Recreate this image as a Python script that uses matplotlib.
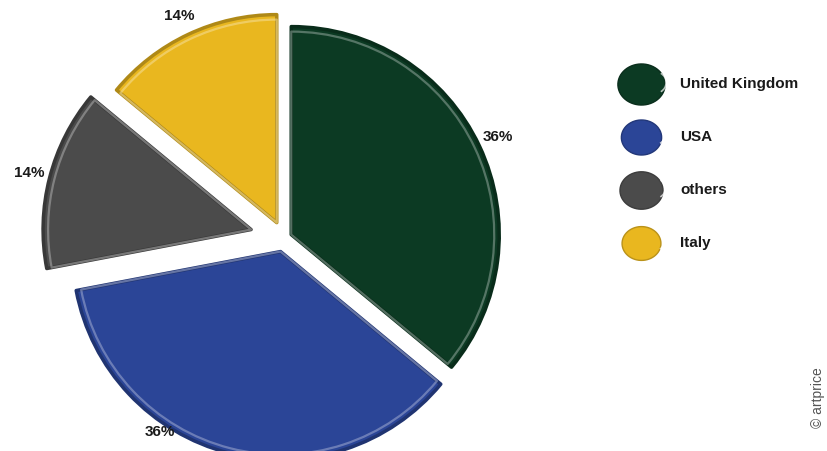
import numpy as np
import matplotlib
matplotlib.use("Agg")
import matplotlib.pyplot as plt
from matplotlib.patches import Wedge
from matplotlib.path import Path
from matplotlib.colors import to_rgb

countries = ["United Kingdom", "USA", "others", "Italy"]
shares = [36, 36, 14, 14]
colors = ["#0c3a23", "#2b4597", "#4b4b4b", "#e9b71f"]

plt.rcParams["font.family"] = ["Liberation Sans", "DejaVu Sans"]

W, H = 827, 451
fig = plt.figure(figsize=(W / 100, H / 100), dpi=100)
ax = fig.add_axes([0, 0, 1, 1])

R = 208
center = (284, H - 238)
# pie offsets are in data units (pixels here)
explode = [8, 14, 34, 17]

wedges, _, pct = ax.pie(
    shares, colors=colors, radius=R, center=center, explode=explode,
    startangle=90, counterclock=False, frame=True,
    autopct="%d%%", pctdistance=1.1,
    wedgeprops=dict(linewidth=2.5, joinstyle="round"),
    textprops=dict(fontsize=11, fontweight="bold", color="#1a1a1a"),
)


def lighter(c, f):
    r, g, b = to_rgb(c)
    return (r + (1 - r) * f, g + (1 - g) * f, b + (1 - b) * f)


# darker rim + glossy inner highlight on each slice
for w, c in zip(wedges, colors):
    w.set_edgecolor(tuple(v * 0.75 for v in to_rgb(c)))
    hl = Wedge(w.center, w.r - 5, w.theta1, w.theta2,
               facecolor="none", edgecolor=lighter(c, 0.55),
               linewidth=1.6, alpha=0.55, joinstyle="round")
    ax.add_patch(hl)

# the USA label sits under the slice rather than on its bisector
pct[1].set_position((160, H - 432))

# legend blobs
t = np.linspace(0, 2 * np.pi, 60)
blob = Path(np.column_stack([1.15 * np.cos(t), np.sin(t)]))
blob_sizes = [34, 29, 31, 28]
for i, (name, c, s) in enumerate(zip(countries, colors, blob_sizes)):
    y = H - (84 + 53 * i)
    ax.plot([641], [y], marker=blob, markersize=s, color=c,
            markeredgecolor=tuple(v * 0.8 for v in to_rgb(c)), markeredgewidth=1)
    ax.plot([655], [y + 2], marker=(Path.arc(-60, 60)), markersize=s * 0.45,
            color="none", markeredgecolor="white", markeredgewidth=1.2, alpha=0.7)
    ax.text(680, y, name, fontsize=11, fontweight="bold", color="#1a1a1a",
            va="center", ha="left")

ax.text(818, H - 398, "© artprice", rotation=90, fontsize=10, color="#555555",
        va="center", ha="center")

ax.set_xlim(0, W)
ax.set_ylim(0, H)
ax.set_aspect("equal")
ax.axis("off")

fig.savefig("out.png", dpi=100)
